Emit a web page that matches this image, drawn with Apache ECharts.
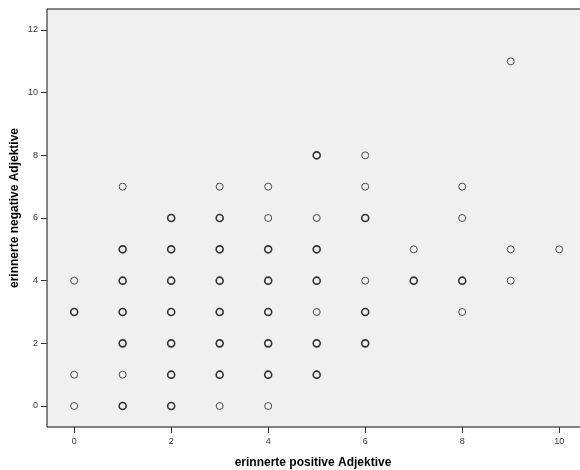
<!DOCTYPE html>
<html>
<head>
<meta charset="utf-8">
<script src="https://cdn.jsdelivr.net/npm/echarts@6/dist/echarts.min.js"></script>
<style>html,body{margin:0;padding:0;background:#fff}#c{width:580px;height:470px}</style>
</head>
<body>
<div id="c"></div>
<script>
// Single observations (thin circles)
const singlePoints = [
  [0,0],[0,1],[0,4],
  [1,1],[1,7],
  [3,0],[3,7],
  [4,0],[4,6],[4,7],
  [5,3],[5,6],
  [6,4],[6,7],[6,8],
  [7,5],
  [8,3],[8,6],[8,7],
  [9,4],[9,5],[9,11],
  [10,5]
];
// Repeated observations (overlapping, drawn darker)
const repeatedPoints = [
  [0,3],
  [1,0],[1,2],[1,3],[1,4],[1,5],
  [2,0],[2,1],[2,2],[2,3],[2,4],[2,5],[2,6],
  [3,1],[3,2],[3,3],[3,4],[3,5],[3,6],
  [4,1],[4,2],[4,3],[4,4],[4,5],
  [5,1],[5,2],[5,4],[5,5],[5,8],
  [6,2],[6,3],[6,6],
  [7,4],
  [8,4]
];
const xTicks = [0,2,4,6,8,10];
const yTicks = [0,2,4,6,8,10,12];
const xTitle = 'erinnerte positive Adjektive';
const yTitle = 'erinnerte negative Adjektive';

const chart = echarts.init(document.getElementById('c'), null, {renderer:'canvas'});
const labelStyle = {fontFamily:'Liberation Sans, Arial, sans-serif', fontSize:9, color:'#333'};
chart.setOption({
  animation:false,
  grid:{left:47, top:9, right:-3, bottom:43, outerBoundsMode:'none', containLabel:false,
        show:true, backgroundColor:'#f0f0f0', borderColor:'#111', borderWidth:1},
  xAxis:{
    type:'value', min:-0.56, max:10.49,
    splitLine:{show:false},
    axisLine:{show:false, onZero:false},
    axisTick:{show:true, customValues:xTicks, length:6, inside:false, lineStyle:{color:'#333'}},
    axisLabel:Object.assign({customValues:xTicks, margin:10}, labelStyle)
  },
  yAxis:{
    type:'value', min:-0.67, max:12.67,
    splitLine:{show:false},
    axisLine:{show:false, onZero:false},
    axisTick:{show:true, customValues:yTicks, length:6, inside:false, lineStyle:{color:'#333'}},
    axisLabel:Object.assign({customValues:yTicks, margin:9}, labelStyle)
  },
  graphic:[
    {type:'text', x:313, y:463, style:{text:xTitle, x:0, y:0, align:'center', verticalAlign:'middle', font:'bold 12px "Liberation Sans", Arial, sans-serif', fill:'#000'}},
    {type:'text', x:15, y:208, rotation:Math.PI/2, style:{text:yTitle, x:0, y:0, align:'center', verticalAlign:'middle', font:'bold 12px "Liberation Sans", Arial, sans-serif', fill:'#000'}}
  ],
  series:[
    {type:'scatter', data:singlePoints, symbol:'circle', symbolSize:7,
     itemStyle:{color:'rgba(0,0,0,0)', borderColor:'#222', borderWidth:1}},
    {type:'scatter', data:repeatedPoints, symbol:'circle', symbolSize:7,
     itemStyle:{color:'rgba(0,0,0,0)', borderColor:'#000', borderWidth:1.6}}
  ]
});
</script>
</body>
</html>
